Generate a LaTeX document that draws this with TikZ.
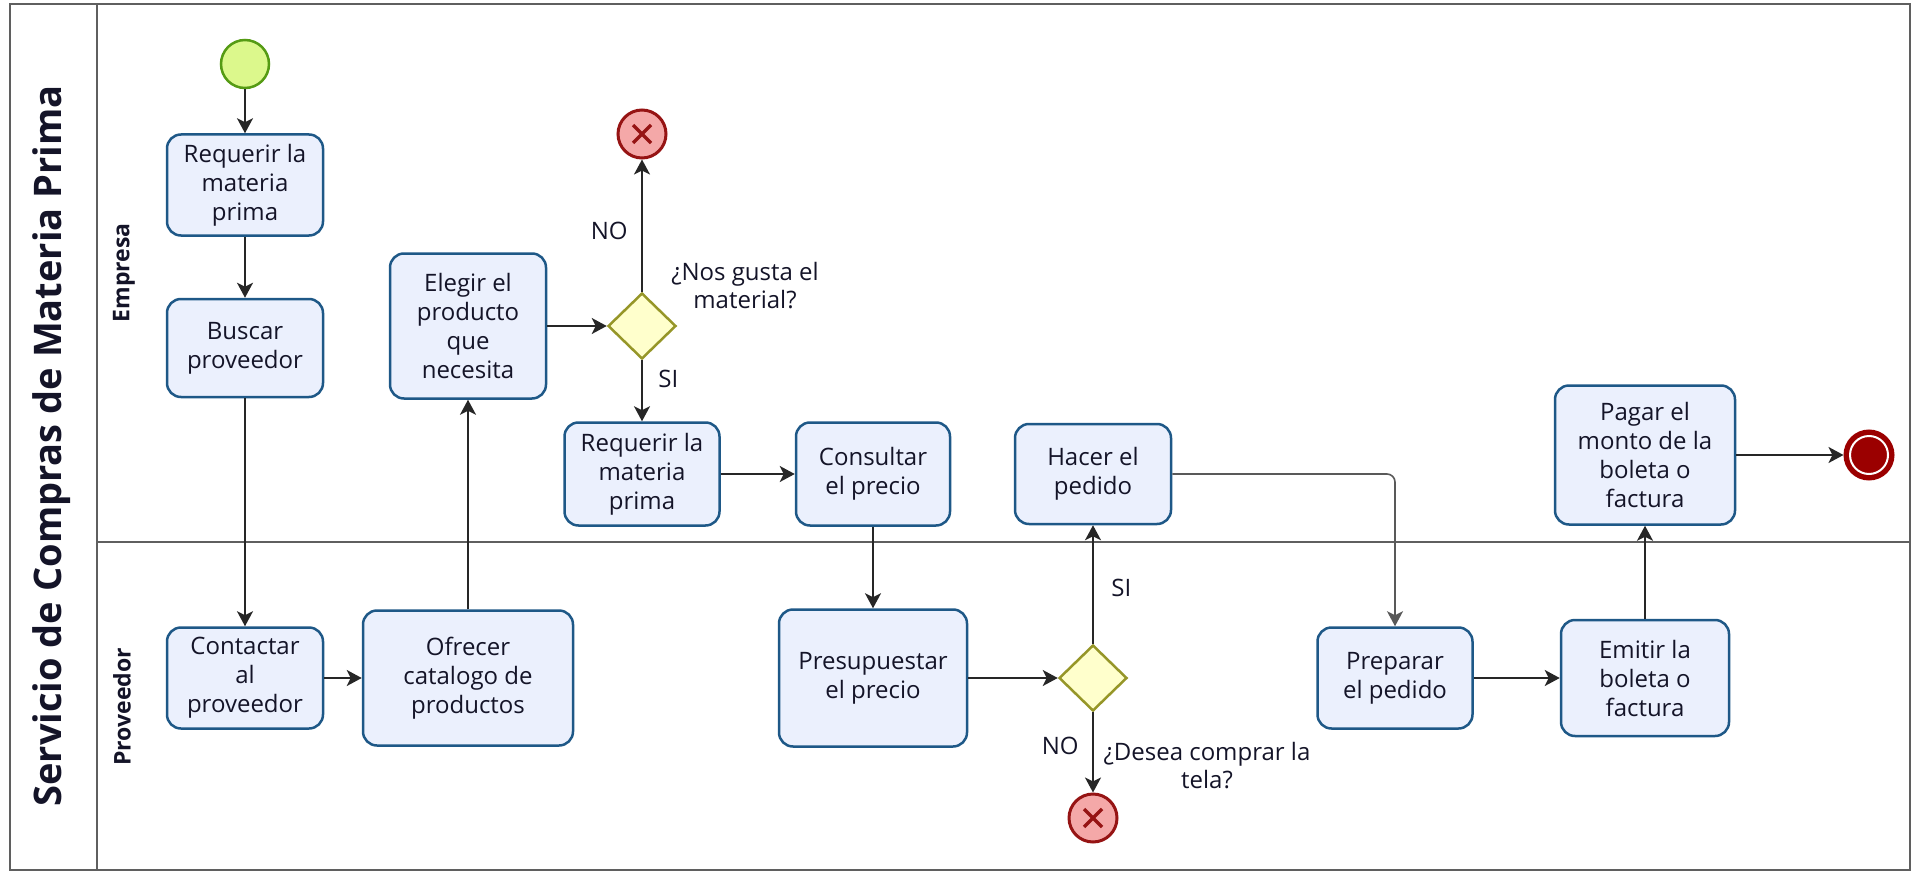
\documentclass[tikz,border=0pt]{standalone}
\usepackage{fontspec}
\setmainfont{Open Sans}
\usetikzlibrary{shapes.geometric,arrows.meta}
\definecolor{taskfill}{RGB}{235,240,253}
\definecolor{taskline}{RGB}{30,88,135}
\definecolor{gwfill}{RGB}{255,255,204}
\definecolor{gwline}{RGB}{150,150,40}
\definecolor{startfill}{RGB}{220,248,140}
\definecolor{startline}{RGB}{85,155,20}
\definecolor{xfill}{RGB}{244,168,168}
\definecolor{xline}{RGB}{150,20,20}
\definecolor{endred}{RGB}{155,0,0}
\definecolor{poolline}{RGB}{95,95,95}
\definecolor{textcol}{RGB}{20,20,40}
\tikzstyle{task} = [draw=taskline, fill=taskfill, line width=2.5pt, rounded corners=14pt, align=center, inner sep=2pt, text=textcol, font=\fontsize{24}{29}\selectfont]
\tikzstyle{gateway} = [diamond, draw=gwline, fill=gwfill, line width=2.5pt, minimum width=68pt, minimum height=66pt, inner sep=0pt]
\tikzstyle{cancel} = [circle, draw=xline, fill=xfill, line width=3pt, minimum size=48pt, inner sep=0pt, path picture={\draw[xline, line width=3.5pt] (path picture bounding box.center) +(-9pt,-9pt) -- +(9pt,9pt) +(-9pt,9pt) -- +(9pt,-9pt);}]
\tikzstyle{lbl} = [font=\fontsize{24}{28}\selectfont, align=center, text=textcol]
\tikzstyle{arrow} = [line width=2.2pt, ->, >={Stealth[length=15pt,width=16pt,inset=4pt]}, draw=black!85]

\begin{document}
\begin{tikzpicture}[x=1pt, y=-1pt]
  \useasboundingbox (0,0) rectangle (1917,872);
  \draw[poolline, line width=2.5pt] (10,4) rectangle (1910,870);
  \draw[poolline, line width=2.5pt] (97,4) -- (97,870);
  \draw[poolline, line width=2pt] (97,542) -- (1910,542);
  \node[rotate=90, text=textcol, font=\bfseries\fontsize{38}{40}\selectfont] (pool) at (52,446) {Servicio de Compras de Materia Prima};
  \node[rotate=90, text=textcol, font=\bfseries\fontsize{23}{26}\selectfont] (lane1) at (124,273) {Empresa};
  \node[rotate=90, text=textcol, font=\bfseries\fontsize{23}{26}\selectfont] (lane2) at (122,707) {Proveedor};

  \node[circle, draw=startline, fill=startfill, line width=2.5pt, minimum size=48pt, inner sep=0pt] (start) at (245,64) {};
  \node[task, minimum width=156pt, minimum height=101pt] (req1) at (245,185) {Requerir la\\materia\\prima};
  \node[task, minimum width=156pt, minimum height=98pt] (buscar) at (245,348) {Buscar\\proveedor};
  \node[task, minimum width=156pt, minimum height=101pt] (contactar) at (245,678) {Contactar\\al\\proveedor};
  \node[task, minimum width=210pt, minimum height=135pt] (ofrecer) at (468,678) {Ofrecer\\catalogo de\\productos};
  \node[task, minimum width=156pt, minimum height=145pt] (elegir) at (468,326) {Elegir el\\producto\\que\\necesita};
  \node[gateway] (gw1) at (642,326) {};
  \node[cancel] (end1) at (642,134) {};
  \node[lbl] (q1) at (745,286) {¿Nos gusta el\\material?};
  \node[task, minimum width=155pt, minimum height=103pt] (req2) at (642,474) {Requerir la\\materia\\prima};
  \node[task, minimum width=154pt, minimum height=103pt] (consultar) at (873,474) {Consultar\\el precio};
  \node[task, minimum width=188pt, minimum height=137pt] (presup) at (873,678) {Presupuestar\\el precio};
  \node[gateway] (gw2) at (1093,678) {};
  \node[cancel] (end2) at (1093,818) {};
  \node[lbl] (q2) at (1207,766) {¿Desea comprar la\\tela?};
  \node[task, minimum width=156pt, minimum height=100pt] (hacer) at (1093,474) {Hacer el\\pedido};
  \node[task, minimum width=155pt, minimum height=101pt] (prep) at (1395,678) {Preparar\\el pedido};
  \node[task, minimum width=168pt, minimum height=116pt] (emitir) at (1645,678) {Emitir la\\boleta o\\factura};
  \node[task, minimum width=180pt, minimum height=139pt] (pagar) at (1645,455) {Pagar el\\monto de la\\boleta o\\factura};
  \node[circle, draw=endred, fill=endred, line width=3pt, minimum size=48pt, inner sep=0pt, path picture={\draw[white, line width=2pt] (path picture bounding box.center) circle (19pt);}] (fin) at (1869,455) {};

  \draw[arrow] (start) -- (req1);
  \draw[arrow] (req1) -- (buscar);
  \draw[arrow] (buscar) -- (contactar);
  \draw[arrow] (contactar) -- (ofrecer);
  \draw[arrow] (ofrecer) -- (elegir);
  \draw[arrow] (elegir) -- (gw1);
  \draw[arrow] (gw1) -- node[lbl, left=10pt, pos=0.46] (no1) {NO} (end1);
  \draw[arrow] (gw1) -- node[lbl, right=12pt, pos=0.3] (si1) {SI} (req2);
  \draw[arrow] (req2) -- (consultar);
  \draw[arrow] (consultar) -- (presup);
  \draw[arrow] (presup) -- (gw2);
  \draw[arrow] (gw2) -- node[lbl, right=14pt, pos=0.47] (si2) {SI} (hacer);
  \draw[arrow] (gw2) -- node[lbl, left=10pt, pos=0.42] (no2) {NO} (end2);
  \draw[arrow, draw=black!65, line width=1.6pt, rounded corners=8pt] (hacer.east) -| (prep.north);
  \draw[arrow] (prep) -- (emitir);
  \draw[arrow] (emitir) -- (pagar);
  \draw[arrow] (pagar) -- (fin);
\end{tikzpicture}
\end{document}
